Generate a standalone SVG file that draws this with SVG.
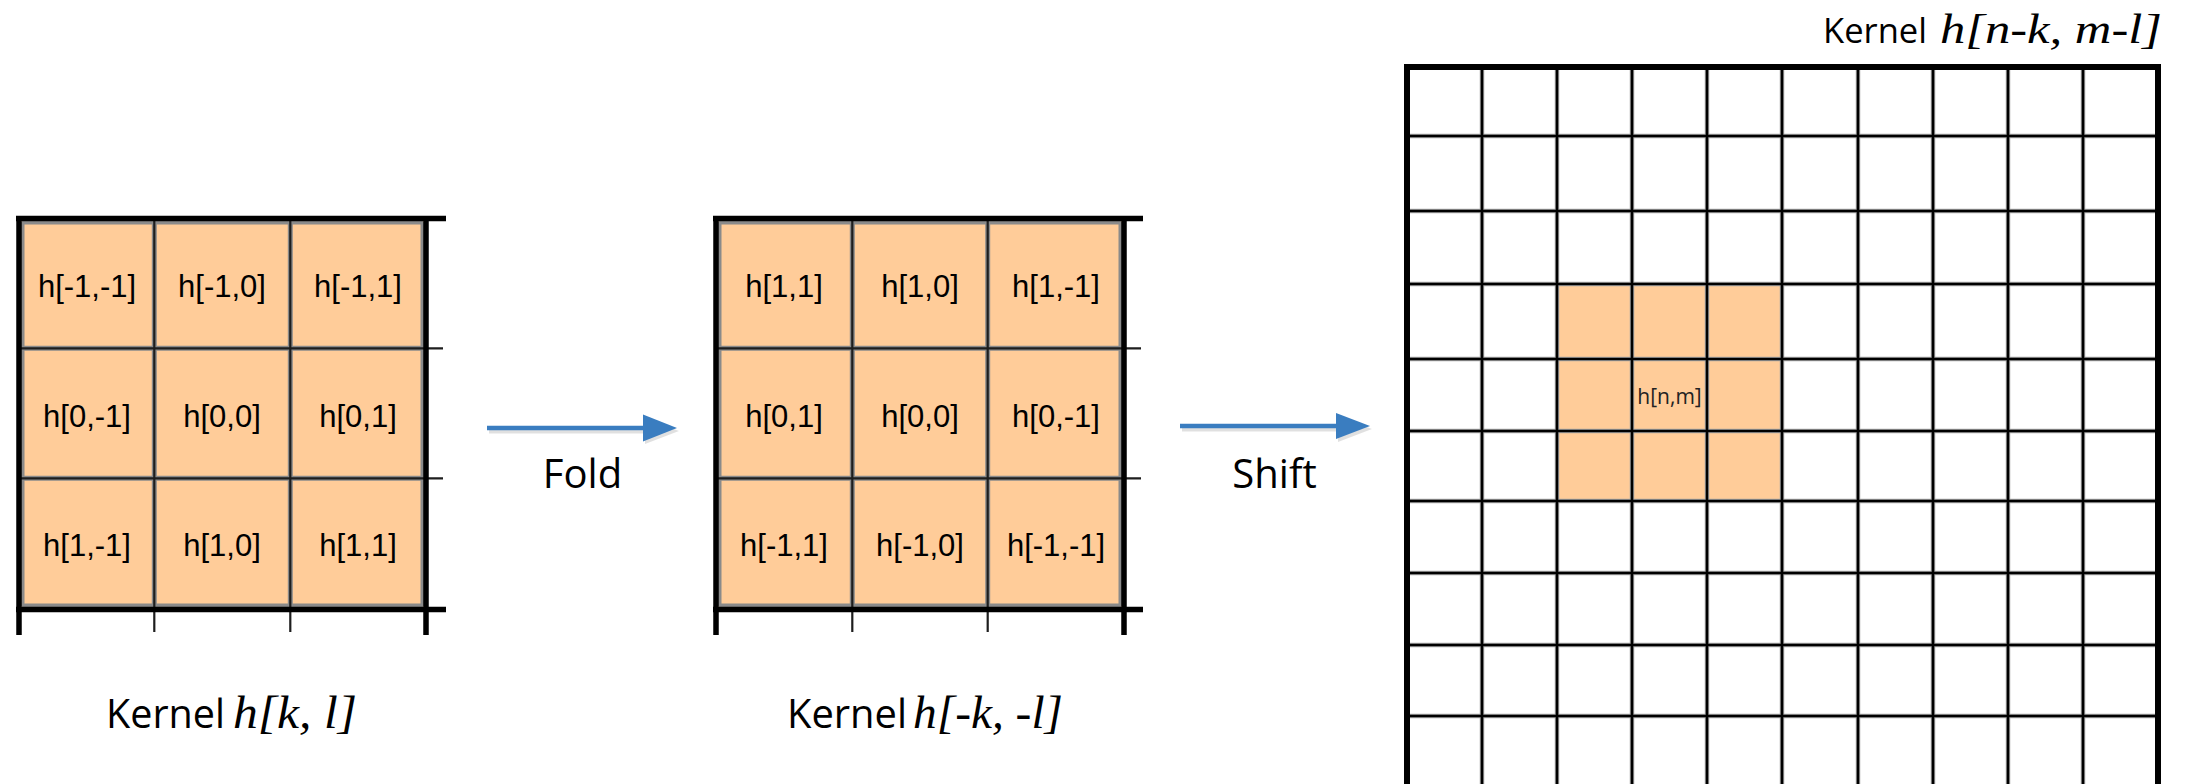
<svg xmlns="http://www.w3.org/2000/svg" width="2191" height="784" viewBox="0 0 2191 784">
<style>
.bg{fill:#ffffff}
.cellfill{fill:#FFCC99}
.gl{stroke:#8a8a8a;stroke-width:5;fill:none}
.in{stroke:#1e1e1e;stroke-width:2.2;fill:none}
.thick{stroke:#000;stroke-width:5.5;fill:none}
.rgl{stroke:#a8a8a8;stroke-width:4.5;fill:none}
.rin{stroke:#000;stroke-width:2.6;fill:none}
.cell{font-family:"Liberation Sans",Arial,sans-serif;font-size:31px;fill:#000;text-anchor:middle}
.lbl{font-family:"Open Sans","Liberation Sans",sans-serif;font-size:40px;fill:#000}
.it{font-family:"Times New Roman","Liberation Serif",serif;font-style:italic;font-weight:400;fill:#000}
.arrow{stroke:#3A7DC0;stroke-width:4.5;fill:none}
.head{fill:#3A7DC0}
.shadow{stroke:#000;stroke-opacity:0.12;stroke-width:5;fill:none}
.shhead{fill:#000;fill-opacity:0.12}
</style>
<rect class="bg" x="0" y="0" width="2191" height="784"/>

<g id="kernel-hkl">
  <rect class="cellfill" x="19" y="218.5" width="407" height="391"/>
  <path class="gl" d="M22 222H423M22 348.3H423M22 478.3H423M22 606H423M22 222V606M154.3 222V606M290.3 222V606M423 222V606"/>
  <path class="in" d="M154.3 218V632M290.3 218V632M19 348.3H443M19 478.3H443"/>
  <path class="thick" d="M16 218.5H446M16 609.5H446M19 216V635M426 216V635"/>
  <text class="cell" x="87" y="296.5">h[-1,-1]</text>
  <text class="cell" x="222" y="296.5">h[-1,0]</text>
  <text class="cell" x="358" y="296.5">h[-1,1]</text>
  <text class="cell" x="87" y="426.5">h[0,-1]</text>
  <text class="cell" x="222" y="426.5">h[0,0]</text>
  <text class="cell" x="358" y="426.5">h[0,1]</text>
  <text class="cell" x="87" y="556">h[1,-1]</text>
  <text class="cell" x="222" y="556">h[1,0]</text>
  <text class="cell" x="358" y="556">h[1,1]</text>
</g>

<g id="kernel-folded">
  <rect class="cellfill" x="716" y="218.5" width="408" height="391"/>
  <path class="gl" d="M719 222H1121M719 348.3H1121M719 478.3H1121M719 606H1121M719 222V606M852.3 222V606M987.7 222V606M1121 222V606"/>
  <path class="in" d="M852.3 218V632M987.7 218V632M716 348.3H1141M716 478.3H1141"/>
  <path class="thick" d="M713 218.5H1143M713 609.5H1143M716 216V635M1124 216V635"/>
  <text class="cell" x="784" y="296.5">h[1,1]</text>
  <text class="cell" x="920" y="296.5">h[1,0]</text>
  <text class="cell" x="1056" y="296.5">h[1,-1]</text>
  <text class="cell" x="784" y="426.5">h[0,1]</text>
  <text class="cell" x="920" y="426.5">h[0,0]</text>
  <text class="cell" x="1056" y="426.5">h[0,-1]</text>
  <text class="cell" x="784" y="556">h[-1,1]</text>
  <text class="cell" x="920" y="556">h[-1,0]</text>
  <text class="cell" x="1056" y="556">h[-1,-1]</text>
</g>

<g id="kernel-shifted">
  <rect class="cellfill" x="1557" y="284" width="225" height="217"/>
  <path class="rgl" d="M1482 67V784M1557 67V784M1632 67V784M1707 67V784M1782 67V784M1858 67V784M1933 67V784M2008 67V784M2083 67V784M1407 136H2158M1407 211H2158M1407 284H2158M1407 359H2158M1407 431H2158M1407 501H2158M1407 573H2158M1407 645H2158M1407 716H2158"/>
  <path class="rin" d="M1482 67V784M1557 67V784M1632 67V784M1707 67V784M1782 67V784M1858 67V784M1933 67V784M2008 67V784M2083 67V784M1407 136H2158M1407 211H2158M1407 284H2158M1407 359H2158M1407 431H2158M1407 501H2158M1407 573H2158M1407 645H2158M1407 716H2158"/>
  <path class="thick" d="M1404 67H2161M1407 64V784M2158 64V784" style="stroke-width:6"/>
  <text x="1669.5" y="404" style="font-family:'Open Sans','Liberation Sans',sans-serif;font-size:21px;fill:#222;text-anchor:middle">h[n,m]</text>
</g>

<g id="connectors">
  <g id="arrow-fold">
    <path class="shadow" d="M489 431H645"/>
    <polygon class="shhead" points="645,418 679,431 645,444"/>
    <path class="arrow" d="M487 428H645"/>
    <polygon class="head" points="643,414.5 677,428 643,441.5"/>
  </g>
  <g id="arrow-shift">
    <path class="shadow" d="M1182 429H1338"/>
    <polygon class="shhead" points="1338,416 1372,429 1338,442"/>
    <path class="arrow" d="M1180 426H1338"/>
    <polygon class="head" points="1336,413 1370,426 1336,439"/>
  </g>
  <text class="lbl" x="582.5" y="488" text-anchor="middle">Fold</text>
  <text class="lbl" x="1274.5" y="488" text-anchor="middle">Shift</text>
</g>

<g id="label-hkl">
  <text class="lbl" x="106" y="728" textLength="119" lengthAdjust="spacingAndGlyphs">Kernel</text>
  <text class="it" x="233" y="728" font-size="46" textLength="124" lengthAdjust="spacingAndGlyphs">h[k, l]</text>
</g>
<g id="label-folded">
  <text class="lbl" x="787" y="728" textLength="120" lengthAdjust="spacingAndGlyphs">Kernel</text>
  <text class="it" x="913" y="728" font-size="46" textLength="150" lengthAdjust="spacingAndGlyphs">h[-k, -l]</text>
</g>
<g id="label-shifted">
  <text class="lbl" x="1823" y="43" style="font-size:35px" textLength="104" lengthAdjust="spacingAndGlyphs">Kernel</text>
  <text class="it" x="1940" y="43" font-size="43" textLength="222" lengthAdjust="spacingAndGlyphs">h[n-k, m-l]</text>
</g>
</svg>
